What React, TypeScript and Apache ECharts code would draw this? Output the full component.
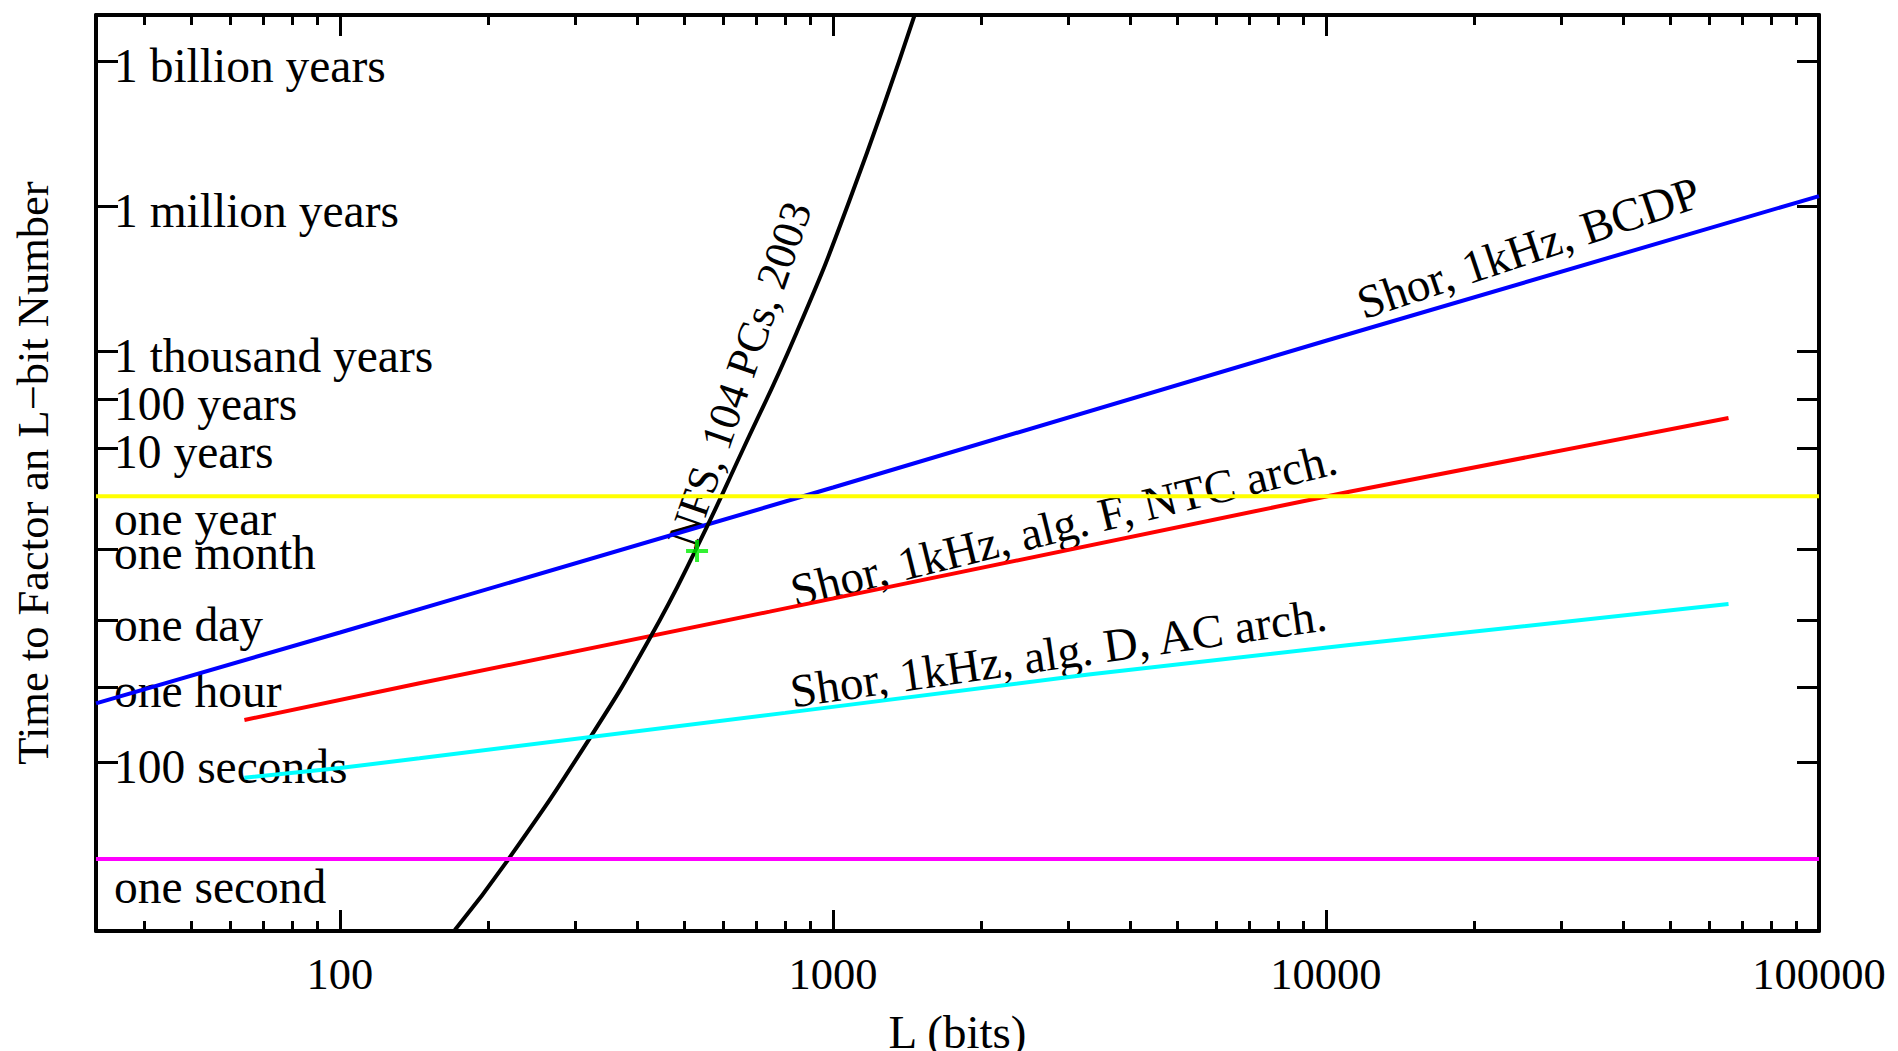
import React, { useEffect, useRef } from 'react';
import * as echarts from 'echarts';

const FONT = '"Liberation Serif", "Times New Roman", serif';

// Axis ranges
const xMin = 32;
const xMax = 100000;
const yMin = 0.03246;
const yMax = 2.82e17;

// X ticks
const xMajorTicks = [100, 1000, 10000, 100000];
const xMinorTicks = [
  40, 50, 60, 70, 80, 90,
  200, 300, 400, 500, 600, 700, 800, 900,
  2000, 3000, 4000, 5000, 6000, 7000, 8000, 9000,
  20000, 30000, 40000, 50000, 60000, 70000, 80000, 90000,
];

// Y ticks (seconds)
const yTickValues = [
  1, 100, 3600, 86400, 2592000, 31557600, 315576000, 3155760000,
  31557600000, 31557600000000, 31557600000000000,
];
const yTickLabels = [
  'one second', '100 seconds', 'one hour', 'one day', 'one month', 'one year',
  '10 years', '100 years', '1 thousand years', '1 million years', '1 billion years',
];

// Shor, 1kHz, BCDP (blue)
const bcdpL = [32, 100, 1000, 10000, 100000];
const bcdpT = [1656, 4.82e4, 4.79e7, 5.19e10, 5.09e13];

// Shor, 1kHz, alg. F, NTC arch. (red)
const ntcL = [64, 145, 744, 11150, 65536];
const ntcT = [748, 4290, 1.3e5, 3.93e7, 1.31e9];

// Shor, 1kHz, alg. D, AC arch. (cyan)
const acL = [64, 100, 145, 800, 3300, 11150, 65536];
const acT = [48, 76, 121, 1050, 6500, 2.65e4, 1.87e5];

// NFS, 104 PCs, 2003 (black)
const nfsL = [171, 219, 321, 425, 524, 656, 843, 1081, 1464];
const nfsT = [0.034, 0.95, 313, 3.66e4, 2.22e6, 2.86e8, 7.5e10, 4.21e13, 2.81e17];

// RSA-160 factored 2003 (green plus)
const rsaL = [530];
const rsaT = [2.33e6];

// Reference lines
const oneYear = 31557600;
const oneSecond = 1;

// Annotations (anchored in data space)
const annotationTexts = [
  'Shor, 1kHz, BCDP',
  'Shor, 1kHz, alg. F, NTC arch.',
  'Shor, 1kHz, alg. D, AC arch.',
  'NFS, 104 PCs, 2003',
];
const annotationL = [25770, 2938, 2863, 647];
const annotationT = [4.37e12, 8.15e6, 1.815e4, 1.06e10];
const annotationAngle = [18.5, 13.8, 8.2, 71];
const annotationSize = [47, 47, 47, 44];

const zip = (xs: number[], ys: number[]) => xs.map((x, i) => [x, ys[i]]);

const yLabelFor = (value: number) => {
  const lv = Math.log10(value);
  const idx = yTickValues.findIndex((v) => Math.abs(Math.log10(v) - lv) < 1e-6);
  if (idx < 0) return '';
  const text = yTickLabels[idx];
  let style = 'n';
  if (text === 'one year') style = 'yr';
  if (text === 'one second') style = 'sec';
  return `{${style}|${text}}`;
};

const Y_LABEL_SIZE = 47.5;
const labelRich = {
  n: { fontSize: Y_LABEL_SIZE, fontFamily: FONT, color: '#000', padding: [9, 0, 0, 0] },
  yr: { fontSize: Y_LABEL_SIZE, fontFamily: FONT, color: '#000', padding: [46, 0, 0, 0] },
  sec: { fontSize: Y_LABEL_SIZE, fontFamily: FONT, color: '#000', padding: [56, 0, 0, 0] },
};

const axisLineStyle = { show: true, onZero: false, lineStyle: { color: '#000', width: 4 } };
const tickLine = { color: '#000', width: 3 };

function buildOption(): any {
  const lineSeries = (name: string, data: number[][], color: string, width: number, extra: any = {}) => ({
    name,
    type: 'line',
    data,
    symbol: 'none',
    showSymbol: false,
    silent: true,
    lineStyle: { color, width },
    itemStyle: { color },
    ...extra,
  });

  return {
    animation: false,
    backgroundColor: '#ffffff',
    grid: {
      left: 96,
      top: 15,
      right: 79,
      bottom: 120,
      containLabel: false,
      outerBoundsMode: 'none',
    },
    xAxis: [
      {
        type: 'log',
        logBase: 10,
        min: xMin,
        max: xMax,
        position: 'bottom',
        z: 3,
        axisLine: axisLineStyle,
        axisTick: { show: true, inside: true, length: 21, customValues: xMajorTicks, lineStyle: tickLine },
        axisLabel: {
          show: true,
          customValues: xMajorTicks,
          margin: 20,
          fontSize: 44.5,
          fontFamily: FONT,
          color: '#000',
          formatter: (v: number) => String(Math.round(v)),
        },
        minorTick: { show: false },
        splitLine: { show: false },
        name: 'L (bits)',
        nameLocation: 'middle',
        nameGap: 77,
        nameTextStyle: { fontSize: 47, fontFamily: FONT, color: '#000' },
      },
      {
        type: 'log',
        logBase: 10,
        min: xMin,
        max: xMax,
        position: 'bottom',
        z: 3,
        axisLine: { show: false },
        axisTick: { show: true, inside: true, length: 10, customValues: xMinorTicks, lineStyle: tickLine },
        axisLabel: { show: false },
        splitLine: { show: false },
      },
      {
        type: 'log',
        logBase: 10,
        min: xMin,
        max: xMax,
        position: 'top',
        z: 3,
        axisLine: axisLineStyle,
        axisTick: { show: true, inside: true, length: 21, customValues: xMajorTicks, lineStyle: tickLine },
        axisLabel: { show: false },
        splitLine: { show: false },
      },
      {
        type: 'log',
        logBase: 10,
        min: xMin,
        max: xMax,
        position: 'top',
        z: 3,
        axisLine: { show: false },
        axisTick: { show: true, inside: true, length: 10, customValues: xMinorTicks, lineStyle: tickLine },
        axisLabel: { show: false },
        splitLine: { show: false },
      },
    ],
    yAxis: [
      {
        type: 'log',
        logBase: 10,
        min: yMin,
        max: yMax,
        position: 'left',
        z: 3,
        axisLine: axisLineStyle,
        axisTick: { show: true, inside: true, length: 22, customValues: yTickValues, lineStyle: tickLine },
        axisLabel: {
          show: true,
          inside: true,
          margin: 18,
          customValues: yTickValues,
          fontSize: Y_LABEL_SIZE,
          fontFamily: FONT,
          color: '#000',
          formatter: (v: number) => yLabelFor(v),
          rich: labelRich,
        },
        splitLine: { show: false },
        minorTick: { show: false },
        name: 'Time to Factor an L\u2212bit Number',
        nameLocation: 'middle',
        nameRotate: 90,
        nameGap: 41,
        nameTextStyle: { fontSize: 44.5, fontFamily: FONT, color: '#000' },
      },
      {
        type: 'log',
        logBase: 10,
        min: yMin,
        max: yMax,
        position: 'right',
        z: 3,
        axisLine: axisLineStyle,
        axisTick: { show: true, inside: true, length: 22, customValues: yTickValues, lineStyle: tickLine },
        axisLabel: { show: false },
        splitLine: { show: false },
      },
    ],
    series: [
      lineSeries('BCDP', zip(bcdpL, bcdpT), '#0000ff', 4),
      lineSeries('NTC', zip(ntcL, ntcT), '#ff0000', 4),
      lineSeries('NFS', zip(nfsL, nfsT), '#000000', 4, { smooth: 0.5 }),
      lineSeries('AC', zip(acL, acT), '#00ffff', 4),
      lineSeries('one year', [[xMin, oneYear], [xMax, oneYear]], '#ffff00', 4),
      lineSeries('one second', [[xMin, oneSecond], [xMax, oneSecond]], '#ff00ff', 4),
      {
        name: 'RSA',
        type: 'scatter',
        data: zip(rsaL, rsaT),
        symbol: 'path://M9,0 h4 v9 h9 v4 h-9 v9 h-4 v-9 h-9 v-4 h9 z',
        symbolSize: 22,
        itemStyle: { color: '#00ee00' },
        silent: true,
        z: 4,
      },
    ],
  };
}

export default function App() {
  const ref = useRef<HTMLDivElement>(null);

  useEffect(() => {
    if (!ref.current) return;
    const chart = echarts.init(ref.current, null, { renderer: 'svg' });
    chart.setOption(buildOption());
    const graphics = annotationTexts.map((text, i) => {
      const p = chart.convertToPixel({ xAxisIndex: 0, yAxisIndex: 0 }, [annotationL[i], annotationT[i]]) as number[];
      return {
        type: 'text',
        x: p[0],
        y: p[1],
        rotation: (annotationAngle[i] * Math.PI) / 180,
        z: 1,
        silent: true,
        style: {
          text,
          fontSize: annotationSize[i],
          fontFamily: FONT,
          fill: '#000',
          align: 'center',
          verticalAlign: 'middle',
        },
      };
    });
    chart.setOption({ graphic: graphics });
    return () => chart.dispose();
  }, []);

  return (
    <div
      ref={ref}
      style={{ position: 'fixed', left: 0, top: 0, width: 1898, height: 1051, background: '#fff' }}
    />
  );
}
